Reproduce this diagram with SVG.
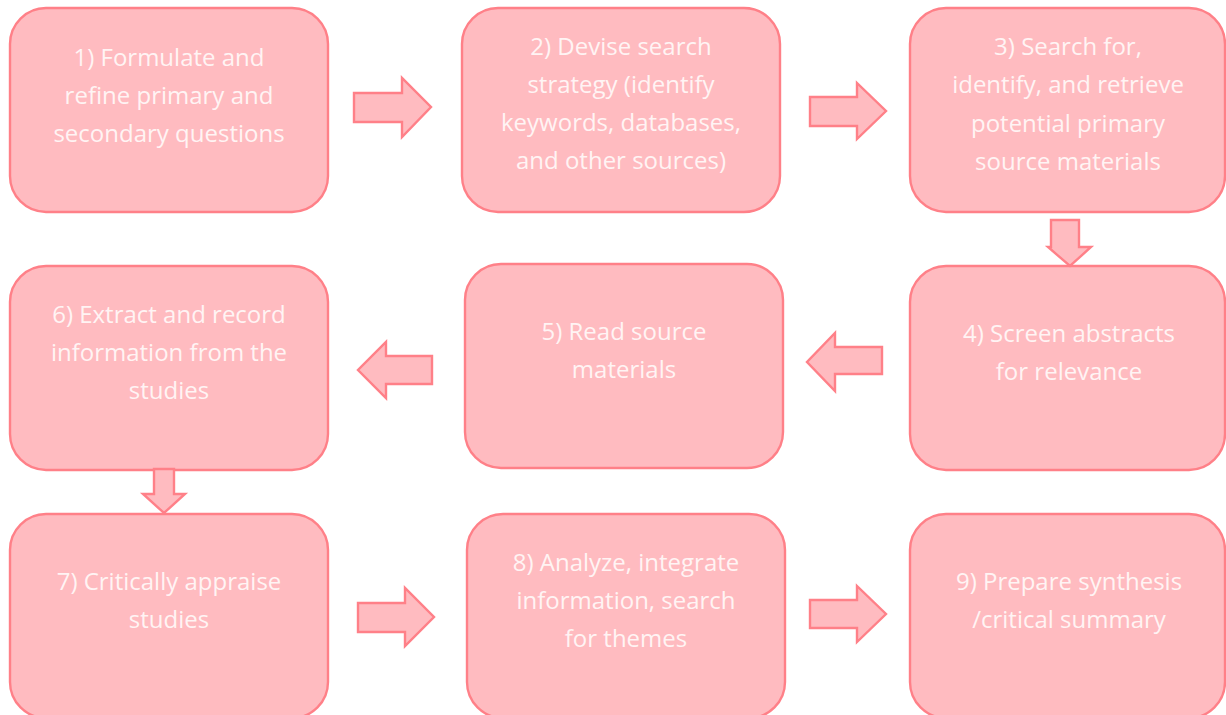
<svg xmlns="http://www.w3.org/2000/svg" width="1226" height="715" viewBox="0 0 1226 715">
<style>
.box{fill:#FFBBC0;stroke:#FF8088;stroke-width:2.4}
.arr{fill:#FFBBC0;stroke:#FF8088;stroke-width:2.4;stroke-linejoin:miter}
text{font-family:"Open Sans","DejaVu Sans",sans-serif;font-size:24px;fill:#FFF4F4;text-anchor:middle}
</style>
<rect width="1226" height="715" fill="#FFFFFF"/>
<g id="n1"><rect class="box" x="10" y="8" width="318" height="204" rx="36"/>
<text x="169" y="66">1) Formulate and</text><text x="169" y="104">refine primary and</text><text x="169" y="142">secondary questions</text></g>
<g id="n2"><rect class="box" x="462" y="8" width="318" height="204" rx="36"/>
<text x="621" y="55">2) Devise search</text><text x="621" y="93">strategy (identify</text><text x="621" y="131">keywords, databases,</text><text x="621" y="169">and other sources)</text></g>
<g id="n3"><rect class="box" x="910" y="8" width="315" height="204" rx="36"/>
<text x="1068" y="55">3) Search for,</text><text x="1068" y="93">identify, and retrieve</text><text x="1068" y="132">potential primary</text><text x="1068" y="170">source materials</text></g>
<g id="n4"><rect class="box" x="910" y="266" width="315" height="204" rx="36"/>
<text x="1069" y="342">4) Screen abstracts</text><text x="1069" y="380">for relevance</text></g>
<g id="n5"><rect class="box" x="465" y="264" width="318" height="204" rx="36"/>
<text x="624" y="340">5) Read source</text><text x="624" y="378">materials</text></g>
<g id="n6"><rect class="box" x="10" y="266" width="318" height="204" rx="36"/>
<text x="169" y="323">6) Extract and record</text><text x="169" y="361">information from the</text><text x="169" y="399">studies</text></g>
<g id="n7"><rect class="box" x="10" y="514" width="318" height="204" rx="36"/>
<text x="169" y="590">7) Critically appraise</text><text x="169" y="628">studies</text></g>
<g id="n8"><rect class="box" x="467" y="514" width="318" height="204" rx="36"/>
<text x="626" y="571">8) Analyze, integrate</text><text x="626" y="609">information, search</text><text x="626" y="647">for themes</text></g>
<g id="n9"><rect class="box" x="910" y="514" width="315" height="204" rx="36"/>
<text x="1069" y="590">9) Prepare synthesis</text><text x="1069" y="628">/critical summary</text></g>
<g id="connectors">
<polygon class="arr" points="354,93 402,93 402,78 431,107 402,137 402,122 354,122"/>
<polygon class="arr" points="810,97 857,97 857,83 886,111 857,139 857,126 810,126"/>
<polygon class="arr" points="1051,220 1079,220 1079,247 1091,247 1070,266 1048,247 1051,247"/>
<polygon class="arr" points="882,347 835,347 835,333 807,362 835,391 835,374 882,374"/>
<polygon class="arr" points="432,356 386,356 386,342 358,370 386,398 386,384 432,384"/>
<polygon class="arr" points="154,469 174,469 174,494 185,494 164,513 143,494 154,494"/>
<polygon class="arr" points="358,603 405,603 405,588 434,617 405,646 405,632 358,632"/>
<polygon class="arr" points="810,600 857,600 857,586 886,614 857,642 857,628 810,628"/>
</g>
</svg>
